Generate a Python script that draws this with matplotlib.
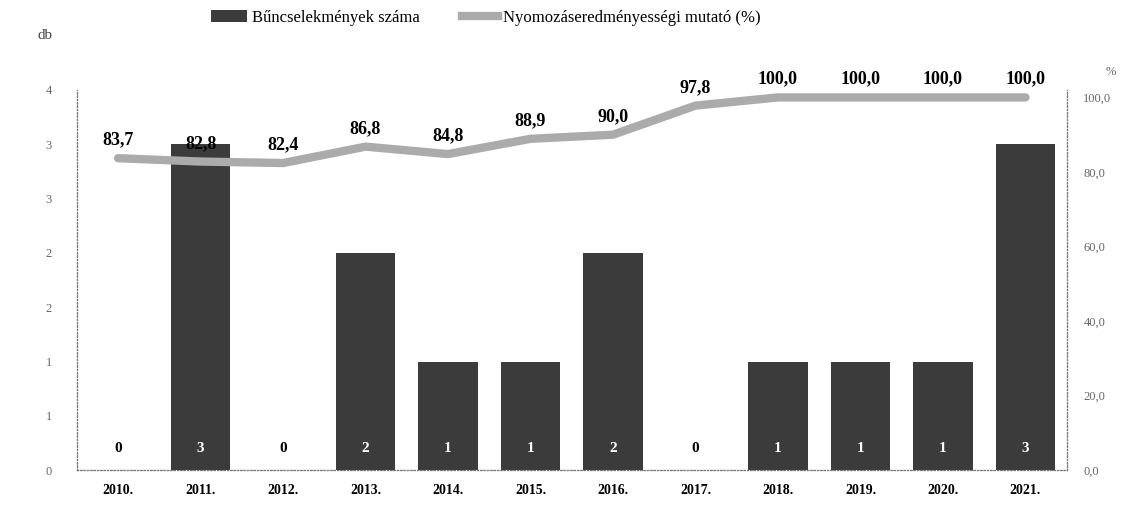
import matplotlib.pyplot as plt
import numpy as np

years = ['2010.', '2011.', '2012.', '2013.', '2014.', '2015.',
         '2016.', '2017.', '2018.', '2019.', '2020.', '2021.']
crimes = [0, 3, 0, 2, 1, 1, 2, 0, 1, 1, 1, 3]
rate = [83.7, 82.8, 82.4, 86.8, 84.8, 88.9, 90.0, 97.8, 100.0, 100.0, 100.0, 100.0]
left_ticks = [0, 0.5, 1, 1.5, 2, 2.5, 3, 3.5]
left_labels = ['0', '1', '1', '2', '2', '3', '3', '4']
right_ticks = [0, 20, 40, 60, 80, 100]

plt.rcParams['font.family'] = ['Liberation Serif', 'DejaVu Serif']

bar_color = '#3b3b3b'
line_color = '#ababab'

fig = plt.figure(figsize=(11.3, 5.14), dpi=100)
ax = fig.add_axes([0.068, 0.085, 0.876, 0.74])
ax2 = ax.twinx()
ax.set_zorder(ax2.get_zorder() + 1)
ax.patch.set_visible(False)

x = np.arange(len(years))
bars = ax.bar(x, crimes, width=0.72, color=bar_color, label='Bűncselekmények száma')
ax.set_xlim(-0.5, len(years) - 0.5)
ax.set_ylim(0, 3.5)
ax.set_yticks(left_ticks)
ax.set_yticklabels(left_labels)
ax.set_xticks(x)
ax.set_xticklabels(years, fontweight='bold', fontsize=10)

for xi, v in zip(x, crimes):
    ax.text(xi, 0.2, str(v), ha='center', va='center', fontsize=11, fontweight='bold',
            color='white' if v > 0 else 'black')

ax2.set_ylim(0, 102)
ax2.set_yticks(right_ticks)
ax2.set_yticklabels([f'{t:.1f}'.replace('.', ',') for t in right_ticks])
line, = ax.plot([], [], color=line_color, lw=6, label='Nyomozáseredményességi mutató (%)')
ax3 = ax.twinx()
ax3.set_ylim(0, 102)
ax3.set_yticks([])
ax3.plot(x, rate, color=line_color, lw=6, solid_joinstyle='round', solid_capstyle='round')
for xi, v in zip(x, rate):
    ax3.annotate(f'{v:.1f}'.replace('.', ','), (xi, v), xytext=(0, 7), textcoords='offset points',
                 ha='center', va='bottom', fontsize=13, fontweight='bold')

for a in (ax, ax2, ax3):
    a.spines['top'].set_visible(False)
    for s in ('left', 'right', 'bottom'):
        a.spines[s].set_linestyle((0, (1, 2)))
        a.spines[s].set_color('#777777')
        a.spines[s].set_linewidth(0.8)
    a.tick_params(length=0)
ax.tick_params(axis='y', labelcolor='#666666', labelsize=9, pad=18)
ax.tick_params(axis='x', pad=10)
ax2.tick_params(axis='y', labelcolor='#666666', labelsize=9, pad=12)

fig.text(0.033, 0.925, 'db', fontsize=11, color='#444444')
fig.text(0.978, 0.855, '%', fontsize=9, color='#666666')
fig.legend(handles=[bars, line], loc='center', bbox_to_anchor=(0.43, 0.965), ncol=2,
           frameon=False, fontsize=12, handlelength=2.2, columnspacing=2.5, handletextpad=0.3)

fig.savefig('out.png', dpi=100)
